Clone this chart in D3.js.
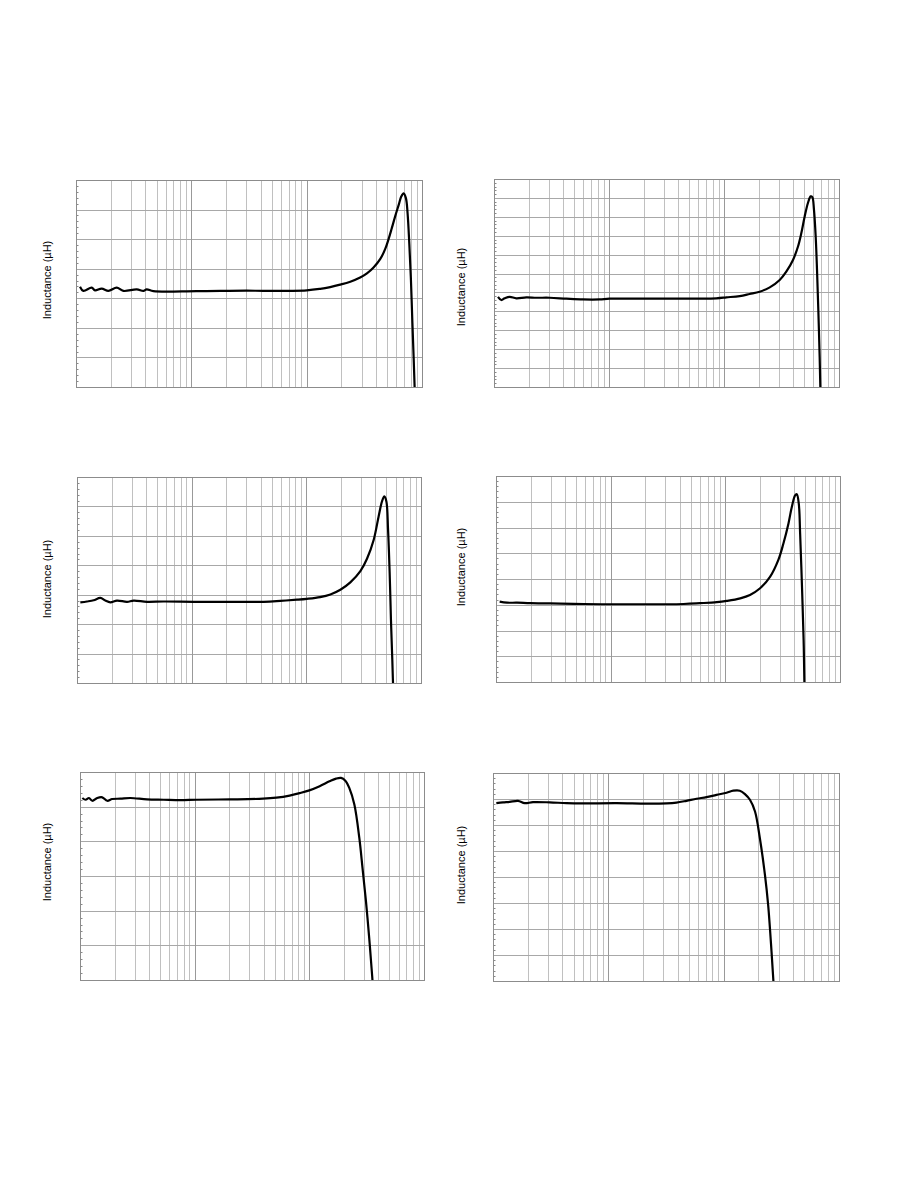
<!DOCTYPE html>
<html>
<head>
<meta charset="utf-8">
<script src="https://cdn.jsdelivr.net/npm/d3@7/dist/d3.min.js"></script>
<style>
html,body{margin:0;padding:0;background:#fff;}
svg{display:block;}
</style>
</head>
<body>
<svg id="chart" width="918" height="1188"></svg>
<script>
// ---------------- DATA ----------------
// Frequency axis: log scale, 3 decades (arbitrary units 1..1000)
const xDomain = [1, 1000];
const yLabel = "Inductance (µH)";

// Number of major horizontal grid divisions per panel (no tick labels shown)
const yDivisions = [7, 11, 7, 8, 6, 8];

// Panel 1
const p1Freq = [1.083,1.158,1.367,1.462,1.67,1.909,2.254,2.575,3.36,3.84,4.10,4.69,11.1,30.3,42.2,100.4,131,160,195,239,291,333,380,435,481,513,548,586,627,661,693,726,750,776,802,824,846,863,881];
const p1L    = [3.39,3.25,3.36,3.27,3.33,3.25,3.36,3.25,3.30,3.25,3.30,3.24,3.24,3.26,3.25,3.27,3.32,3.38,3.46,3.56,3.70,3.84,4.04,4.33,4.68,5.00,5.38,5.78,6.15,6.44,6.55,6.38,5.87,4.85,3.61,2.26,1.02,0.0,-0.79];

// Panel 2
const p2Freq = [1.083,1.158,1.238,1.368,1.564,1.91,2.334,3.05,4.26,5.94,8.29,10.1,22.6,85.7,105,137,167,204,250,305,348,398,440,470,503,537,567,586,606,627,644,661,679,688,697];
const p2L    = [4.77,4.60,4.69,4.77,4.69,4.74,4.72,4.72,4.67,4.63,4.63,4.67,4.67,4.69,4.74,4.81,4.92,5.04,5.27,5.66,6.10,6.72,7.43,8.13,9.02,9.73,10.08,10.04,9.37,7.96,6.19,4.07,1.59,0.0,-1.24];

// Panel 3
const p3Freq = [1.069,1.222,1.397,1.597,1.766,1.953,2.233,2.73,3.12,4.08,5.70,11.1,42.4,59.3,82.9,101,132,162,198,242,296,338,387,427,457,479,499,516,533,547,562,570,578];
const p3L    = [2.74,2.77,2.81,2.89,2.80,2.74,2.80,2.76,2.80,2.76,2.77,2.76,2.76,2.79,2.83,2.86,2.92,3.01,3.17,3.42,3.80,4.22,4.87,5.66,6.17,6.34,6.17,5.21,3.74,2.15,0.79,0.0,-0.68];

// Panel 4
const p4Freq = [1.076,1.247,1.524,1.991,2.97,5.81,43.2,60.3,84.3,103,135,164,201,246,290,321,355,380,406,420,437,449,461,473,483,489,496];
const p4L    = [3.12,3.08,3.08,3.06,3.05,3.03,3.03,3.06,3.10,3.15,3.25,3.38,3.64,4.09,4.74,5.38,6.15,6.80,7.25,7.29,6.93,5.77,4.35,2.80,1.38,0.0,-0.81];

// Panel 5
const p5Freq = [1.048,1.12,1.197,1.28,1.414,1.563,1.727,1.909,2.254,2.75,3.84,5.36,7.47,10.4,20.3,39.5,51.6,67.3,82.2,100,123,150,171,189,206,223,247,273,291,312,333,349,356,363];
const p5L    = [5.25,5.20,5.25,5.17,5.25,5.27,5.17,5.22,5.23,5.25,5.21,5.20,5.19,5.20,5.21,5.23,5.26,5.32,5.39,5.47,5.59,5.73,5.81,5.83,5.75,5.54,5.06,4.09,3.23,2.26,1.20,0.34,-0.05,-0.53];

// Panel 6
const p6Freq = [1.069,1.221,1.396,1.648,1.883,2.223,3.10,4.33,6.04,11.8,21.4,31.9,39.0,47.6,58.2,71.0,86.7,106,121,138,153,169,187,206,228,243,260,269,275];
const p6L    = [6.84,6.87,6.89,6.93,6.84,6.88,6.87,6.84,6.83,6.84,6.82,6.83,6.86,6.93,7.01,7.07,7.16,7.24,7.32,7.32,7.19,6.97,6.52,5.49,4.08,2.93,1.13,0.10,-0.54];

const series = [
  [p1Freq, p1L], [p2Freq, p2L], [p3Freq, p3L],
  [p4Freq, p4L], [p5Freq, p5L], [p6Freq, p6L]
];

// ---------------- LAYOUT ----------------
const layout = [
  {x0: 76,  x1: 422, y0: 180, y1: 387, lx: 47,  ly: 280},
  {x0: 494, x1: 839, y0: 179, y1: 387, lx: 461, ly: 287},
  {x0: 77,  x1: 421, y0: 477, y1: 683, lx: 47,  ly: 579},
  {x0: 496, x1: 840, y0: 476, y1: 682, lx: 461, ly: 567},
  {x0: 80,  x1: 424, y0: 772, y1: 980, lx: 47,  ly: 862},
  {x0: 493, x1: 839, y0: 773, y1: 981, lx: 461, ly: 865}
];

const svg = d3.select("#chart");

// minor log ticks 2..9 per decade
const minorVals = [];
for (let d = 1; d < 1000; d *= 10) for (let k = 2; k <= 9; k++) minorVals.push(k * d);
const decadeVals = [10, 100];

layout.forEach((L, i) => {
  const n = yDivisions[i];
  const x = d3.scaleLog().domain(xDomain).range([L.x0, L.x1]);
  const y = d3.scaleLinear().domain([0, n]).range([L.y1, L.y0]);
  const g = svg.append("g");

  // minor vertical grid
  g.append("g").selectAll("line").data(minorVals).join("line")
    .attr("x1", d => Math.round(x(d)) + 0.5).attr("x2", d => Math.round(x(d)) + 0.5)
    .attr("y1", L.y0).attr("y2", L.y1)
    .attr("stroke", "#c0c0c0").attr("stroke-width", 1);

  // horizontal grid
  const hv = d3.range(1, n);
  g.append("g").selectAll("line").data(hv).join("line")
    .attr("x1", L.x0).attr("x2", L.x1)
    .attr("y1", d => Math.round(y(d)) + 0.5).attr("y2", d => Math.round(y(d)) + 0.5)
    .attr("stroke", "#a8a8a8").attr("stroke-width", 1);

  // decade lines
  g.append("g").selectAll("line").data(decadeVals).join("line")
    .attr("x1", d => Math.round(x(d)) + 0.5).attr("x2", d => Math.round(x(d)) + 0.5)
    .attr("y1", L.y0).attr("y2", L.y1)
    .attr("stroke", "#999").attr("stroke-width", 1);

  // minor y ticks on left edge (inside)
  const yMinor = [];
  for (let j = 0; j < n; j++) for (let k = 1; k <= 4; k++) yMinor.push(j + k / 5);
  g.append("g").selectAll("line").data(yMinor).join("line")
    .attr("x1", L.x0).attr("x2", L.x0 + 2.5)
    .attr("y1", d => Math.round(y(d)) + 0.5).attr("y2", d => Math.round(y(d)) + 0.5)
    .attr("stroke", "#888").attr("stroke-width", 1);

  // frame
  g.append("rect")
    .attr("x", L.x0 + 0.5).attr("y", L.y0 + 0.5)
    .attr("width", L.x1 - L.x0).attr("height", L.y1 - L.y0)
    .attr("fill", "none").attr("stroke", "#8c8c8c").attr("stroke-width", 1);

  // clip
  const cid = "clip" + i;
  svg.append("clipPath").attr("id", cid).append("rect")
    .attr("x", L.x0).attr("y", L.y0).attr("width", L.x1 - L.x0).attr("height", L.y1 - L.y0);

  const [fs, ls] = series[i];
  const pts = fs.map((f, k) => [f, ls[k]]);
  const line = d3.line().x(d => x(d[0])).y(d => y(d[1])).curve(d3.curveCatmullRom.alpha(0.5));
  g.append("path").datum(pts)
    .attr("clip-path", "url(#" + cid + ")")
    .attr("d", line)
    .attr("fill", "none").attr("stroke", "#000").attr("stroke-width", 2.2)
    .attr("stroke-linejoin", "round");

  // y label
  g.append("text")
    .attr("transform", `translate(${L.lx},${L.ly}) rotate(-90)`)
    .attr("text-anchor", "middle").attr("dominant-baseline", "central")
    .attr("font-family", "Liberation Sans, Arial, sans-serif")
    .attr("font-size", 11).attr("fill", "#000")
    .text(yLabel);
});
</script>
</body>
</html>
